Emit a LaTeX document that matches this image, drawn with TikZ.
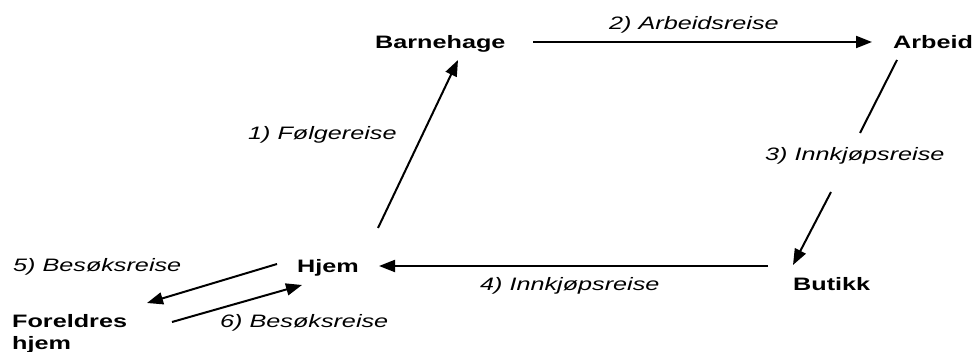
\documentclass[tikz,border=0pt]{standalone}
\usepackage{fontspec}
\setmainfont[FakeStretch=1.4]{Liberation Sans}
\usetikzlibrary{arrows.meta}
\begin{document}
\begin{tikzpicture}[x=1pt,y=-1pt,
  place/.style={font=\fontsize{18}{22}\selectfont\bfseries, inner sep=0pt, anchor=base west, align=left},
  trip/.style={font=\fontsize{18}{22}\selectfont\itshape, inner sep=0pt, anchor=base west},
  conn/.style={line width=2pt, -{Triangle[length=16pt,width=12pt]}},
  plain/.style={line width=2pt}]
\useasboundingbox[fill=white] (0,0) rectangle (974,352);
% places
\node[place] (barn) at (375,49) {Barnehage};
\node[place] (arb) at (893,49) {Arbeid};
\node[place] (but) at (793,291) {Butikk};
\node[place] (hjem) at (297,273) {Hjem};
\node[place] (forel) at (12,349) {Foreldres\\hjem};
% trip labels
\node[trip] (t1) at (248,140) {1) Følgereise};
\node[trip] (t2) at (609,30) {2) Arbeidsreise};
\node[trip] (t3) at (765,161) {3) Innkjøpsreise};
\node[trip] (t4) at (480,291) {4) Innkjøpsreise};
\node[trip] (t5) at (13,272) {5) Besøksreise};
\node[trip] (t6) at (220,328) {6) Besøksreise};
% connector end points
\coordinate (h1) at (378,228);
\coordinate (b1) at (458,60);
\coordinate (b2) at (533,42);
\coordinate (a2) at (872,42);
\coordinate (a3) at (897,60);
\coordinate (m3a) at (860,133);
\coordinate (m3b) at (831,192);
\coordinate (u3) at (793,265);
\coordinate (u4) at (768,266);
\coordinate (h4) at (379,266);
\coordinate (h5) at (277,264);
\coordinate (f5) at (147,303);
\coordinate (f6) at (172,322);
\coordinate (h6) at (302,285);
% connectors
\draw[conn] (h1) -- (b1);
\draw[conn] (b2) -- (a2);
\draw[plain] (a3) -- (m3a);
\draw[conn] (m3b) -- (u3);
\draw[conn] (u4) -- (h4);
\draw[conn] (h5) -- (f5);
\draw[conn] (f6) -- (h6);
\end{tikzpicture}
\end{document}
